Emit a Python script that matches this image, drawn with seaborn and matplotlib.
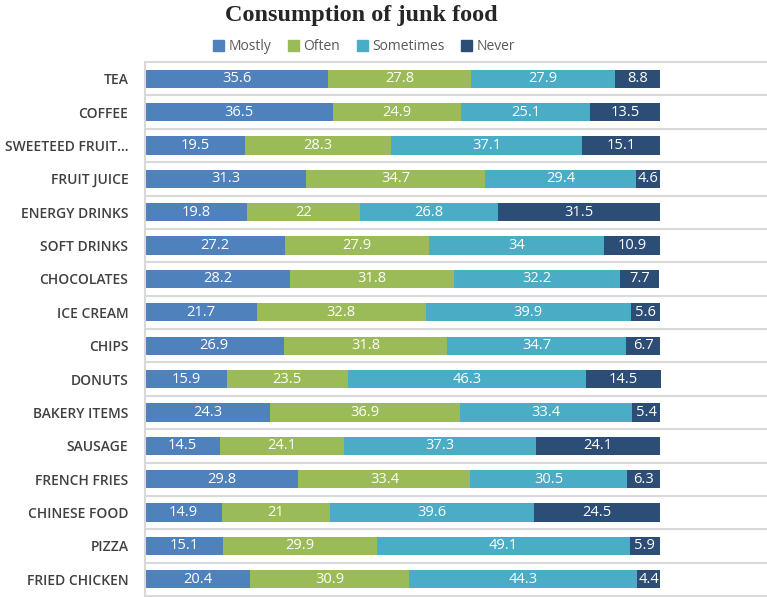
import numpy as np
import pandas as pd
import seaborn as sns
import matplotlib.pyplot as plt
from matplotlib.patches import Patch

categories = ["TEA", "COFFEE", "SWEETEED FRUIT…", "FRUIT JUICE", "ENERGY DRINKS",
              "SOFT DRINKS", "CHOCOLATES", "ICE CREAM", "CHIPS", "DONUTS",
              "BAKERY ITEMS", "SAUSAGE", "FRENCH FRIES", "CHINESE FOOD", "PIZZA",
              "FRIED CHICKEN"]
mostly = [35.6, 36.5, 19.5, 31.3, 19.8, 27.2, 28.2, 21.7, 26.9, 15.9, 24.3, 14.5, 29.8, 14.9, 15.1, 20.4]
often = [27.8, 24.9, 28.3, 34.7, 22, 27.9, 31.8, 32.8, 31.8, 23.5, 36.9, 24.1, 33.4, 21, 29.9, 30.9]
sometimes = [27.9, 25.1, 37.1, 29.4, 26.8, 34, 32.2, 39.9, 34.7, 46.3, 33.4, 37.3, 30.5, 39.6, 49.1, 44.3]
never = [8.8, 13.5, 15.1, 4.6, 31.5, 10.9, 7.7, 5.6, 6.7, 14.5, 5.4, 24.1, 6.3, 24.5, 5.9, 4.4]
series_names = ["Mostly", "Often", "Sometimes", "Never"]
colors = ["#4F81BD", "#9BBB59", "#4BACC6", "#2C4D75"]

sns.set_theme(style="white")
plt.rcParams['font.family'] = ['Open Sans', 'DejaVu Sans']

df = pd.DataFrame({"category": categories, "Mostly": mostly, "Often": often,
                   "Sometimes": sometimes, "Never": never})
vals = df[series_names].to_numpy()
cum = vals.cumsum(axis=1)
for j, name in enumerate(series_names):
    df["cum_" + name] = cum[:, j]

fig = plt.figure(figsize=(7.67, 5.97), dpi=100)
ax = fig.add_axes([145 / 767, 1 / 597, 622 / 767, 534 / 597])

for j in reversed(range(4)):
    sns.barplot(data=df, x="cum_" + series_names[j], y="category", orient="y",
                order=categories, color=colors[j], saturation=1, width=0.55,
                linewidth=0, ax=ax)

for i in range(len(categories)):
    for j in range(4):
        v = vals[i, j]
        ax.text(cum[i, j] - v / 2, i, f"{v:g}", ha="center", va="center",
                color="white", fontsize=10.5)

for k in range(len(categories) + 1):
    ax.axhline(k - 0.5, color="#D9D9D9", lw=1.5, zorder=0, clip_on=False)

ax.set_xlim(0, 120.8)
ax.set_ylim(len(categories) - 0.5, -0.5)
ax.set_xlabel("")
ax.set_ylabel("")
ax.set_xticks([])
for s in ["top", "right", "bottom"]:
    ax.spines[s].set_visible(False)
ax.spines["left"].set_color("#D9D9D9")
ax.spines["left"].set_linewidth(1.5)
ax.tick_params(axis="y", length=0, pad=12)
for lab in ax.get_yticklabels():
    lab.set_fontsize(10)
    lab.set_fontweight("semibold")
    lab.set_color("#404040")

fig.text(361 / 767, 1 - 15 / 597, "Consumption of junk food", family="Liberation Serif",
         weight="bold", fontsize=17.5, ha="center", va="center")

handles = [Patch(color=c) for c in colors]
fig.legend(handles, series_names, loc="center", bbox_to_anchor=(364 / 767, 1 - 47 / 597),
           ncol=4, frameon=False, handlelength=0.8, handleheight=0.8,
           handletextpad=0.3, columnspacing=1.2, prop={"size": 10},
           labelcolor="#595959")

fig.savefig("out.png", dpi=100)
